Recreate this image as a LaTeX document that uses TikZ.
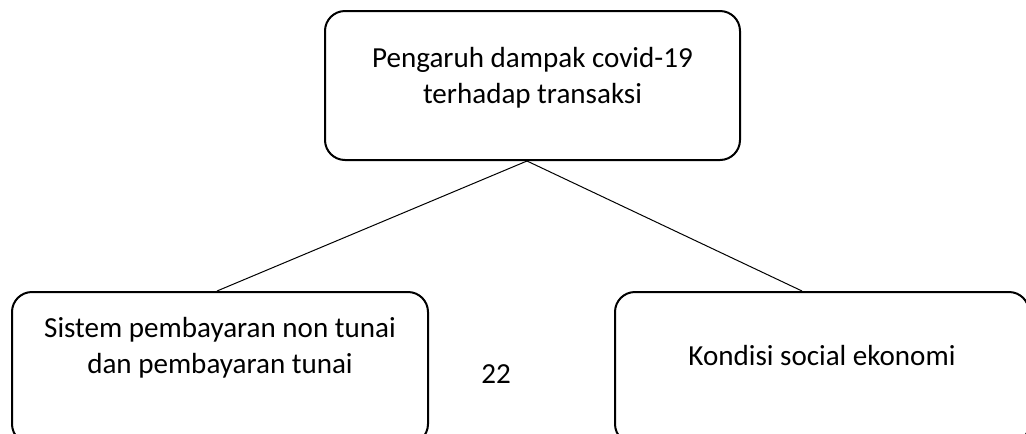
\documentclass[tikz,border=0pt]{standalone}
\usepackage{fontspec}
\setmainfont{Carlito}
\begin{document}
\begin{tikzpicture}[x=0.75pt,y=-0.75pt,
  box/.style={draw, line width=1.5pt, rounded corners=15pt, inner sep=0pt},
  txt/.style={font=\fontsize{21.8}{27}\selectfont, align=center, inner sep=0pt, anchor=base},
  link/.style={line width=0.75pt}]
\fill[white] (0,0) rectangle (1026,433);
\useasboundingbox (0,0) rectangle (1026,433);
\node[box, minimum width=311.25pt, minimum height=111.75pt] (top) at (532.5,85.5) {};
\node[box, minimum width=312pt, minimum height=114pt] (lbox) at (220,368) {};
\node[box, minimum width=310.5pt, minimum height=114pt] (rbox) at (822,368) {};
\node[txt] (toptext) at (532.5,103) {Pengaruh dampak covid-19\\terhadap transaksi};
\node[txt] (ltext) at (220,373) {Sistem pembayaran non tunai\\dan pembayaran tunai};
\node[txt] (rtext) at (822,365) {Kondisi social ekonomi};
\node[txt] (page) at (496,383) {22};
\draw[link] ([xshift=-4.125pt]top.south) -- ([xshift=-2.25pt]lbox.north);
\draw[link] ([xshift=-4.125pt]top.south) -- ([xshift=-15pt]rbox.north);
\end{tikzpicture}
\end{document}
